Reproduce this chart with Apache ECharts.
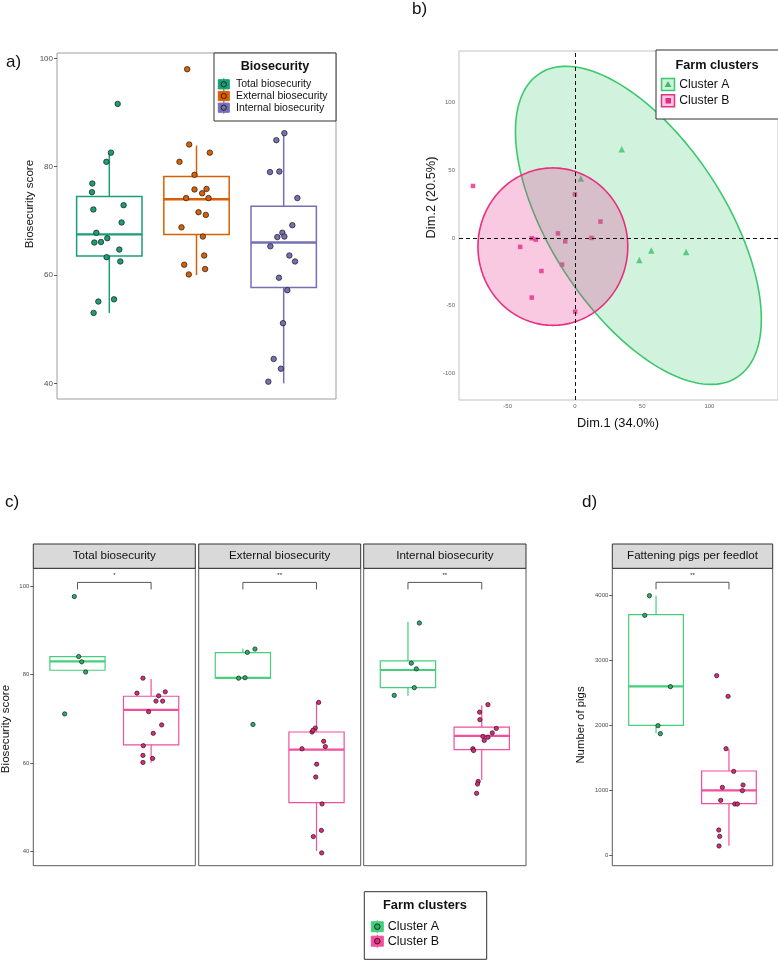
<!DOCTYPE html>
<html><head><meta charset="utf-8">
<script src="https://cdn.jsdelivr.net/npm/echarts@6/dist/echarts.min.js"></script>
<style>html,body{margin:0;padding:0;background:#fff}#chart{width:778px;height:960px}</style>
</head><body><div id="chart"></div>
<script>
// ---------- Panel a data ----------
const aCategories = ['Total biosecurity', 'External biosecurity', 'Internal biosecurity'];
const aTotalScores = [91.6, 82.6, 80.9, 76.9, 75.3, 72.9, 72.1, 69.7, 67.8, 66.0, 66.1, 66.8, 64.7, 63.3, 62.5, 55.5, 55.1, 53.0];
const aTotalJitter = [0.096, 0.019, -0.034, -0.195, -0.199, 0.164, -0.183, 0.141, -0.149, -0.172, -0.096, -0.023, 0.115, -0.031, 0.126, 0.054, -0.126, -0.180];
const aExternalScores = [98.0, 84.1, 82.6, 80.9, 78.5, 75.8, 75.9, 75.1, 74.2, 74.2, 71.6, 71.1, 68.8, 67.1, 63.6, 61.9, 61.1, 60.1];
const aExternalJitter = [-0.107, -0.084, 0.153, -0.195, -0.023, -0.023, 0.115, 0.065, -0.119, 0.138, 0.023, 0.107, -0.172, 0.073, 0.088, -0.141, 0.099, -0.088];
const aInternalScores = [86.2, 84.9, 79.0, 79.1, 74.2, 69.2, 67.8, 67.0, 67.1, 65.3, 63.6, 62.5, 59.5, 57.2, 51.1, 44.5, 42.7, 40.3];
const aInternalJitter = [0.008, -0.084, -0.157, -0.050, 0.157, 0.099, -0.015, -0.073, 0.008, -0.153, 0.065, 0.130, -0.054, 0.042, -0.008, -0.115, -0.031, -0.176];
// box stats: [lower whisker, Q1, median, Q3, upper whisker]
const aBoxTotal = [53.0, 63.5, 67.5, 74.5, 82.5];
const aBoxExternal = [60.0, 67.5, 74.0, 78.2, 83.9];
const aBoxInternal = [40.0, 57.7, 66.0, 72.7, 86.2];
const aTicks = [40, 60, 80, 100];

// ---------- Panel b data ----------
const clusterNames = ['Cluster A', 'Cluster B'];
const bClusterADim1 = [34.8, 4.4, 56.8, 82.7, 47.9];
const bClusterADim2 = [65.4, 43.8, -9.3, -10.3, -16.2];
const bClusterBDim1 = [-75.8, 0.0, 19.0, -12.6, -32.1, -29.1, -7.2, 12.3, -40.7, -9.6, -24.9, -32.1, 0.2];
const bClusterBDim2 = [38.4, 32.2, 12.1, 3.4, -0.2, -1.2, -2.5, 0.0, -6.6, -19.7, -24.4, -44.0, -54.4];
// ellipse: [centre dim1, centre dim2, semi-axis 1, semi-axis 2, angle deg]
const bEllipseA = [47.2, 9.3, 134, 64.7, -56.6];
const bEllipseB = [-16.4, -6.4, 55.7, 58.1, 0];
const bTicksX = [-50, 0, 50, 100];
const bTicksY = [-100, -50, 0, 50, 100];

// ---------- Panel c data ----------
const cFacets = ['Total biosecurity', 'External biosecurity', 'Internal biosecurity'];
const cTotalA = [97.7, 84.1, 82.9, 80.6, 71.1];
const cTotalAJitter = [-0.043, 0.016, 0.057, 0.111, -0.174];
const cTotalB = [79.2, 75.8, 76.1, 75.2, 74.0, 74.0, 71.6, 68.6, 66.7, 63.9, 61.7, 61.0, 60.1];
const cTotalBJitter = [-0.111, -0.192, 0.192, 0.102, 0.066, 0.156, -0.034, 0.143, 0.029, -0.106, -0.111, 0.020, -0.111];
const cTotalBoxA = [81.0, 81.0, 83.0, 84.1, 84.1];
const cTotalBoxB = [60.1, 64.1, 72.0, 75.1, 79.0];
const cExternalA = [79.2, 79.3, 85.05, 85.8, 68.7];
const cExternalAJitter = [-0.058, 0.029, 0.060, 0.164, 0.137];
const cExternalB = [73.7, 67.9, 67.0, 67.4, 64.9, 63.7, 63.2, 59.7, 56.8, 50.7, 44.7, 43.3, 39.6];
const cExternalBJitter = [0.029, -0.016, -0.061, -0.048, 0.097, 0.120, -0.197, 0.002, -0.011, 0.075, 0.066, -0.043, 0.070];
const cExternalBoxA = [79.2, 79.2, 79.3, 85.0, 85.9];
const cExternalBoxB = [40.05, 51.0, 63.0, 67.0, 73.7];
const cInternalA = [91.7, 82.6, 81.3, 77.05, 75.3];
const cInternalAJitter = [0.154, 0.045, 0.113, 0.086, -0.186];
const cInternalB = [73.2, 71.5, 69.8, 67.8, 66.8, 65.8, 66.0, 65.1, 63.2, 62.8, 55.8, 55.2, 53.1];
const cInternalBJitter = [0.084, -0.029, -0.025, 0.197, 0.143, 0.084, 0.016, 0.034, -0.120, -0.111, -0.048, -0.057, -0.070];
const cInternalBoxA = [75.2, 77.05, 81.05, 83.1, 92.0];
const cInternalBoxB = [56.1, 63.0, 66.1, 68.1, 73.0];
const cTicks = [40, 60, 80, 100];
const cSignif = ['*', '**', '**'];

// ---------- Panel d data ----------
const dTitle = 'Fattening pigs per feedlot';
const dPigsA = [4000, 3697, 2600, 2000, 1877];
const dPigsAJitter = [-0.091, -0.155, 0.197, 0.027, 0.059];
const dPigsB = [2769, 2451, 1646, 1297, 1087, 1051, 1000, 851, 795, 795, 395, 297, 149];
const dPigsBJitter = [-0.168, -0.012, -0.040, 0.065, 0.193, -0.090, 0.184, -0.113, 0.079, 0.116, -0.140, -0.127, -0.136];
const dBoxA = [1882, 2005, 2605, 3708, 4000];
const dBoxB = [154, 800, 1005, 1303, 1641];
const dTicks = [0, 1000, 2000, 3000, 4000];
const dSignif = '**';

// ---------- styling ----------
const FONT = 'Liberation Sans, Arial, Helvetica, sans-serif';
const aColors = ['#1b9e77', '#d95f02', '#7570b3'];
const clusterBoxColors = ['#45cf7c', '#f24f9c'];
const clusterPointColors = ['#27b066', '#e2257f'];

const chart = echarts.init(document.getElementById('chart'), null, {renderer: 'canvas'});

function jitterPoints(vals, jit, pos) {
  return vals.map((v, i) => [pos + jit[i], v]);
}

function makeBoxRender(lw, mw) {
  return function (params, api) {
    const x = api.value(0);
    const lo = api.coord([x, api.value(1)]);
    const q1 = api.coord([x, api.value(2)]);
    const md = api.coord([x, api.value(3)]);
    const q3 = api.coord([x, api.value(4)]);
    const hi = api.coord([x, api.value(5)]);
    const half = api.size([0.75, 0])[0] / 2;
    const color = api.visual('color');
    return {
      type: 'group',
      children: [
        {type: 'line', shape: {x1: hi[0], y1: hi[1], x2: q3[0], y2: q3[1]}, style: {stroke: color, lineWidth: lw}},
        {type: 'line', shape: {x1: q1[0], y1: q1[1], x2: lo[0], y2: lo[1]}, style: {stroke: color, lineWidth: lw}},
        {type: 'rect', shape: {x: q3[0] - half, y: q3[1], width: 2 * half, height: q1[1] - q3[1]}, style: {fill: 'rgba(255,255,255,0)', stroke: color, lineWidth: lw}},
        {type: 'line', shape: {x1: md[0] - half, y1: md[1], x2: md[0] + half, y2: md[1]}, style: {stroke: color, lineWidth: mw}}
      ]
    };
  };
}

function boxSeries(idx, stats, colors, lw, mw) {
  return {
    type: 'custom', xAxisIndex: idx, yAxisIndex: idx, z: 2, silent: true,
    data: stats.map((s, i) => ({value: [i + 1].concat(s), itemStyle: {color: colors[i]}})),
    encode: {x: 0, y: [1, 2, 3, 4, 5]},
    renderItem: makeBoxRender(lw, mw)
  };
}

function pointSeries(idx, data, color, size) {
  return {
    type: 'scatter', xAxisIndex: idx, yAxisIndex: idx, z: 3, silent: true,
    data: data, symbolSize: size,
    itemStyle: {color: color, borderColor: '#1a1a1a', borderWidth: 0.7, opacity: 1}
  };
}

function bracketSeries(idx, yTop, yTick, yLabel, label) {
  return {
    type: 'custom', xAxisIndex: idx, yAxisIndex: idx, z: 4, silent: true,
    data: [[1, 2, yTop, yTick, yLabel]],
    encode: {x: [0, 1], y: [2, 3, 4]},
    renderItem: function (params, api) {
      const p1 = api.coord([api.value(0), api.value(3)]);
      const p2 = api.coord([api.value(0), api.value(2)]);
      const p3 = api.coord([api.value(1), api.value(2)]);
      const p4 = api.coord([api.value(1), api.value(3)]);
      const pl = api.coord([(api.value(0) + api.value(1)) / 2, api.value(4)]);
      return {
        type: 'group',
        children: [
          {type: 'polyline', shape: {points: [p1, p2, p3, p4]}, style: {stroke: '#444', lineWidth: 0.9, fill: null}},
          {type: 'text', x: pl[0], y: pl[1], style: {text: label, fontSize: 6, fontFamily: FONT, fill: '#222', align: 'center', verticalAlign: 'middle'}}
        ]
      };
    }
  };
}

function ellipseSeries(params, fill, stroke) {
  return {
    type: 'custom', xAxisIndex: 1, yAxisIndex: 1, z: 4, silent: true,
    data: [params],
    encode: {x: 0, y: 1},
    renderItem: function (p, api) {
      const cx = api.value(0), cy = api.value(1), ra = api.value(2), rb = api.value(3);
      const ang = api.value(4) * Math.PI / 180;
      const pts = [];
      for (let i = 0; i <= 180; i++) {
        const t = i / 180 * 2 * Math.PI;
        const ex = ra * Math.cos(t), ey = rb * Math.sin(t);
        pts.push(api.coord([cx + ex * Math.cos(ang) - ey * Math.sin(ang), cy + ex * Math.sin(ang) + ey * Math.cos(ang)]));
      }
      return {type: 'polygon', shape: {points: pts}, style: {fill: fill, stroke: stroke, lineWidth: 1.6}};
    }
  };
}

const grids = [
  {left: 57, top: 53, width: 279, height: 346, show: true, borderColor: '#9e9e9e', borderWidth: 1, backgroundColor: '#fff'},
  {left: 459, top: 51, width: 321, height: 349, show: true, borderColor: '#c2c2c2', borderWidth: 1, backgroundColor: '#fff'},
  {left: 33.3, top: 568.3, width: 162, height: 297.4, show: true, borderColor: '#5a5a5a', borderWidth: 1, backgroundColor: '#fff'},
  {left: 198.7, top: 568.3, width: 162, height: 297.4, show: true, borderColor: '#5a5a5a', borderWidth: 1, backgroundColor: '#fff'},
  {left: 363.7, top: 568.3, width: 162.3, height: 297.4, show: true, borderColor: '#5a5a5a', borderWidth: 1, backgroundColor: '#fff'},
  {left: 612.3, top: 568.3, width: 160.4, height: 297.4, show: true, borderColor: '#5a5a5a', borderWidth: 1, backgroundColor: '#fff'}
];

const plain = v => String(v);

function hiddenX(idx, min, max) {
  return {type: 'value', gridIndex: idx, min: min, max: max, show: false, splitLine: {show: false}};
}
function yAx(idx, min, max, ticks, fontSize, margin, showLabels) {
  return {
    type: 'value', gridIndex: idx, min: min, max: max,
    splitLine: {show: false}, axisLine: {show: false},
    axisTick: {show: showLabels, customValues: ticks, length: 3, lineStyle: {color: '#333', width: 0.8}},
    axisLabel: {show: showLabels, customValues: ticks, fontSize: fontSize, color: '#4d4d4d', margin: margin, fontFamily: FONT, formatter: plain}
  };
}

const xAxes = [
  hiddenX(0, 0.4, 3.6),
  {type: 'value', gridIndex: 1, min: -86.2, max: 151, splitLine: {show: false}, axisLine: {show: false},
   axisTick: {show: false}, axisLabel: {customValues: bTicksX, fontSize: 6, color: '#666', margin: 3, fontFamily: FONT, formatter: plain}},
  hiddenX(2, 0.4, 2.6), hiddenX(3, 0.4, 2.6), hiddenX(4, 0.4, 2.6), hiddenX(5, 0.4, 2.6)
];
const yAxes = [
  yAx(0, 37.1, 101, aTicks, 8, 4, true),
  {type: 'value', gridIndex: 1, min: -119.6, max: 138, splitLine: {show: false}, axisLine: {show: false},
   axisTick: {show: false}, axisLabel: {customValues: bTicksY, fontSize: 6, color: '#666', margin: 4, fontFamily: FONT, formatter: plain}},
  yAx(2, 36.7, 104.1, cTicks, 6, 4, true),
  yAx(3, 36.7, 104.1, cTicks, 6, 4, false),
  yAx(4, 36.7, 104.1, cTicks, 6, 4, false),
  yAx(5, -154, 4421, dTicks, 6, 4, true)
];

const series = [];
// panel a
series.push(boxSeries(0, [aBoxTotal, aBoxExternal, aBoxInternal], aColors, 1.5, 2.4));
series.push(pointSeries(0, jitterPoints(aTotalScores, aTotalJitter, 1), aColors[0], 5.5));
series.push(pointSeries(0, jitterPoints(aExternalScores, aExternalJitter, 2), aColors[1], 5.5));
series.push(pointSeries(0, jitterPoints(aInternalScores, aInternalJitter, 3), aColors[2], 5.5));

// panel b
series.push({type: 'scatter', xAxisIndex: 1, yAxisIndex: 1, z: 2, silent: true, symbol: 'triangle', symbolSize: 6.5,
  data: bClusterADim1.map((v, i) => [v, bClusterADim2[i]]), itemStyle: {color: '#3cbf6b'}});
series.push({type: 'scatter', xAxisIndex: 1, yAxisIndex: 1, z: 2, silent: true, symbol: 'rect', symbolSize: 4.5,
  data: bClusterBDim1.map((v, i) => [v, bClusterBDim2[i]]), itemStyle: {color: '#e7298a'}});
series.push(ellipseSeries(bEllipseA, 'rgba(61,200,110,0.24)', '#3ec86e'));
series.push(ellipseSeries(bEllipseB, 'rgba(231,41,138,0.25)', '#e8307f'));
series.push({type: 'scatter', xAxisIndex: 1, yAxisIndex: 1, z: 5, silent: true, data: [],
  markLine: {silent: true, symbol: 'none', animation: false, label: {show: false},
    lineStyle: {color: '#111', type: [4, 3], width: 1}, data: [{xAxis: 0}, {yAxis: 0}]}});

// panel c
const cGroups = [
  [cTotalBoxA, cTotalBoxB, cTotalA, cTotalAJitter, cTotalB, cTotalBJitter],
  [cExternalBoxA, cExternalBoxB, cExternalA, cExternalAJitter, cExternalB, cExternalBJitter],
  [cInternalBoxA, cInternalBoxB, cInternalA, cInternalAJitter, cInternalB, cInternalBJitter]
];
cGroups.forEach((grp, k) => {
  const idx = 2 + k;
  series.push(boxSeries(idx, [grp[0], grp[1]], clusterBoxColors, 1.2, 2.2));
  series.push(pointSeries(idx, jitterPoints(grp[2], grp[3], 1), clusterPointColors[0], 4.3));
  series.push(pointSeries(idx, jitterPoints(grp[4], grp[5], 2), clusterPointColors[1], 4.3));
  series.push(bracketSeries(idx, 100.9, 99.3, 102.6, cSignif[k]));
});

// panel d
series.push(boxSeries(5, [dBoxA, dBoxB], clusterBoxColors, 1.2, 2.2));
series.push(pointSeries(5, jitterPoints(dPigsA, dPigsAJitter, 1), clusterPointColors[0], 4.3));
series.push(pointSeries(5, jitterPoints(dPigsB, dPigsBJitter, 2), clusterPointColors[1], 4.3));
series.push(bracketSeries(5, 4206, 4098, 4320, dSignif));

// ---------- graphics: labels, strips, legends ----------
const g = [];
function txt(x, y, text, size, opts) {
  opts = opts || {};
  g.push({type: 'text', x: x, y: y, rotation: opts.rot || 0, z: 10,
    style: {text: text, fontSize: size, fontFamily: FONT, fontWeight: opts.bold ? 'bold' : 'normal',
      fill: opts.fill || '#111', align: opts.align || 'center', verticalAlign: 'middle'}});
}
// panel letters
txt(6, 62, 'a)', 17, {align: 'left'});
txt(412, 9, 'b)', 17, {align: 'left'});
txt(5, 502, 'c)', 17, {align: 'left'});
txt(582, 502, 'd)', 17, {align: 'left'});
// axis titles
txt(29.5, 204, 'Biosecurity score', 11.6, {rot: Math.PI / 2});
txt(431, 197.5, 'Dim.2 (20.5%)', 12.8, {rot: Math.PI / 2});
txt(618, 423, 'Dim.1 (34.0%)', 12.8);
txt(5.5, 729, 'Biosecurity score', 11.6, {rot: Math.PI / 2});
txt(581, 725, 'Number of pigs', 11.4, {rot: Math.PI / 2});
// strips
const strips = [[33.3, 162, cFacets[0]], [198.7, 162, cFacets[1]], [363.7, 162.3, cFacets[2]], [612.3, 160.4, dTitle]];
strips.forEach(s => {
  g.push({type: 'rect', z: 9, shape: {x: s[0], y: 544, width: s[1], height: 24.3}, style: {fill: '#d9d9d9', stroke: '#333', lineWidth: 1}});
  txt(s[0] + s[1] / 2, 556.2, s[2], 11.6);
});
// legend a
g.push({type: 'rect', z: 9, shape: {x: 214, y: 53, width: 122, height: 68}, style: {fill: '#fff', stroke: '#333', lineWidth: 1}});
txt(275, 67, 'Biosecurity', 12.6, {bold: true});
aCategories.forEach((c, i) => {
  const y = 84.3 + i * 11.7;
  g.push({type: 'line', z: 10, shape: {x1: 223.8, y1: y - 6, x2: 223.8, y2: y + 6}, style: {stroke: aColors[i], lineWidth: 1.2}});
  g.push({type: 'rect', z: 10, shape: {x: 218.3, y: y - 4.6, width: 11, height: 9.2}, style: {fill: aColors[i], stroke: aColors[i], lineWidth: 1}});
  g.push({type: 'circle', z: 11, shape: {cx: 223.8, cy: y, r: 2.6}, style: {fill: aColors[i], stroke: '#111', lineWidth: 0.8}});
  txt(236, y, c, 10.5, {align: 'left'});
});
// legend b
g.push({type: 'rect', z: 9, shape: {x: 656, y: 50, width: 124, height: 69}, style: {fill: '#fff', stroke: '#333', lineWidth: 1}});
txt(717, 65, 'Farm clusters', 12.7, {bold: true});
const bKeyColors = ['#3ec86e', '#e8307f'];
const bKeyFills = ['rgba(61,200,110,0.25)', 'rgba(231,41,138,0.25)'];
clusterNames.forEach((c, i) => {
  const y = 84.5 + i * 16.3;
  g.push({type: 'rect', z: 10, shape: {x: 661.5, y: y - 6, width: 13, height: 12}, style: {fill: bKeyFills[i], stroke: bKeyColors[i], lineWidth: 1.5}});
  if (i === 0) {
    g.push({type: 'polygon', z: 11, shape: {points: [[668, y - 3.5], [671.5, y + 2.6], [664.5, y + 2.6]]}, style: {fill: '#3cbf6b'}});
  } else {
    g.push({type: 'rect', z: 11, shape: {x: 665.5, y: y - 2.8, width: 5.5, height: 5.5}, style: {fill: '#e7298a'}});
  }
  txt(679.3, y, c, 12.2, {align: 'left'});
});
// legend c
g.push({type: 'rect', z: 9, shape: {x: 364.3, y: 891.7, width: 122.4, height: 67.6}, style: {fill: '#fff', stroke: '#333', lineWidth: 1}});
txt(425, 905, 'Farm clusters', 12.8, {bold: true});
clusterNames.forEach((c, i) => {
  const y = 926.7 + i * 14.5;
  g.push({type: 'line', z: 10, shape: {x1: 377.3, y1: y - 6.5, x2: 377.3, y2: y + 6.5}, style: {stroke: clusterBoxColors[i], lineWidth: 1.2}});
  g.push({type: 'rect', z: 10, shape: {x: 371.3, y: y - 5, width: 12, height: 10}, style: {fill: clusterBoxColors[i], stroke: clusterBoxColors[i], lineWidth: 1}});
  g.push({type: 'circle', z: 11, shape: {cx: 377.3, cy: y, r: 2.8}, style: {fill: clusterPointColors[i], stroke: '#111', lineWidth: 0.8}});
  txt(387.7, y, c, 12.5, {align: 'left'});
});

chart.setOption({
  animation: false,
  backgroundColor: '#fff',
  textStyle: {fontFamily: FONT},
  grid: grids,
  xAxis: xAxes,
  yAxis: yAxes,
  series: series,
  graphic: g
});
</script></body></html>
